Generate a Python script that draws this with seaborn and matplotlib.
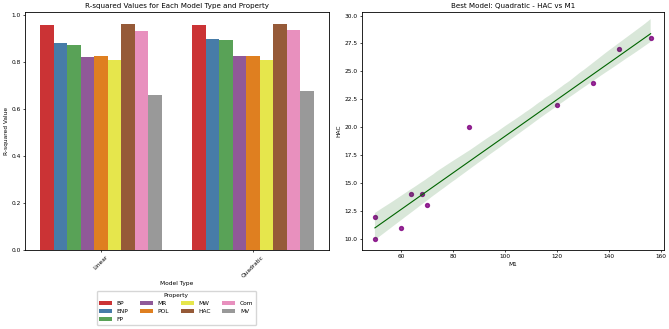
import pandas as pd
import matplotlib.pyplot as plt
import seaborn as sns

# R-squared values per model type and property
properties = ["BP", "ENP", "FP", "MR", "POL", "MW", "HAC", "Com", "MV"]
r2_linear = [0.955, 0.880, 0.870, 0.820, 0.822, 0.808, 0.960, 0.932, 0.658]
r2_quadratic = [0.957, 0.897, 0.893, 0.822, 0.822, 0.808, 0.962, 0.934, 0.677]

# best model data: HAC vs M1
m1 = [50, 50, 60, 64, 68, 70, 86, 120, 134, 144, 156]
hac = [10, 12, 11, 14, 14, 13, 20, 22, 24, 27, 28]

r2_df = pd.DataFrame({
    "Model Type": ["Linear"] * len(properties) + ["Quadratic"] * len(properties),
    "Property": properties * 2,
    "R-squared Value": r2_linear + r2_quadratic,
})
best_df = pd.DataFrame({"M1": m1, "HAC": hac})

fs = 4.2
plt.rcParams.update({"font.size": fs, "axes.titlesize": 5.1, "axes.labelsize": fs,
                     "xtick.labelsize": fs, "ytick.labelsize": fs,
                     "axes.linewidth": 0.6, "xtick.major.width": 0.5,
                     "ytick.major.width": 0.5})

fig = plt.figure(figsize=(6.69, 3.29), dpi=100, facecolor="white")
ax1 = fig.add_axes([0.0374, 0.24, 0.454, 0.723])
ax2 = fig.add_axes([0.541, 0.24, 0.451, 0.723])

# bar plot of R-squared values
sns.barplot(data=r2_df, x="Model Type", y="R-squared Value", hue="Property",
            palette="Set1", ax=ax1)
ax1.set_title("R-squared Values for Each Model Type and Property", pad=3)
ax1.tick_params(axis="x", rotation=45)
ax1.tick_params(length=1.5, pad=1.5)
ax1.xaxis.labelpad = 2
ax1.yaxis.labelpad = 2
ax1.legend(title="Property", ncol=4, loc="upper center", bbox_to_anchor=(0.498, -0.16),
           fontsize=fs, title_fontsize=fs, handlelength=2.2, columnspacing=2.0,
           borderpad=0.4, labelspacing=0.5, framealpha=0.8)

# scatter + fit of best model
sns.regplot(data=best_df, x="M1", y="HAC", ax=ax2,
            scatter_kws={"color": "purple", "s": 8},
            line_kws={"color": "darkgreen", "linewidth": 0.8})
ax2.set_title("Best Model: Quadratic - HAC vs M1", pad=3)
ax2.set_xlim(45, 161)
ax2.set_ylim(9.0, 30.3)
ax2.tick_params(length=1.5, pad=1.5)
ax2.xaxis.labelpad = 2
ax2.yaxis.labelpad = 2

fig.savefig("out.png", dpi=100)
